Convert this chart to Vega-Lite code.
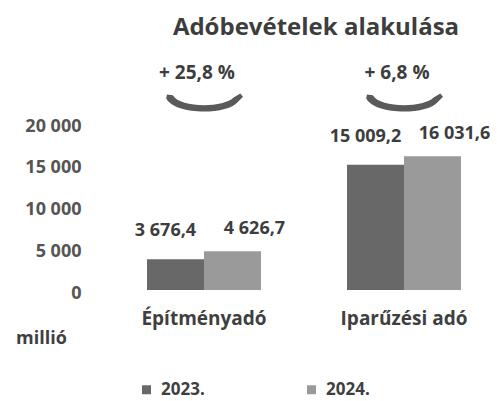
{
  "$schema": "https://vega.github.io/schema/vega-lite/v6.json",
  "width": 400,
  "height": 167,
  "autosize": {"type": "none"},
  "padding": {"left": 104, "top": 123, "right": 0, "bottom": 111},
  "config": {
    "locale": {"number": {"decimal": ",", "thousands": " ", "grouping": [3], "currency": ["", ""]}},
    "view": {"stroke": null},
    "font": "Open Sans"
  },
  "title": {
    "text": "Adóbevételek alakulása",
    "font": "Open Sans", "fontWeight": "bold", "fontSize": 24, "color": "#3d3d3d",
    "anchor": "middle", "dx": 12, "offset": 24, "frame": "group"
  },
  "datasets": {
    "bars": [
      {"category": "Építményadó", "year": "2023.", "value": 3676.4},
      {"category": "Építményadó", "year": "2024.", "value": 4626.7},
      {"category": "Iparűzési adó", "year": "2023.", "value": 15009.2},
      {"category": "Iparűzési adó", "year": "2024.", "value": 16031.6}
    ],
    "changes": [
      {"category": "Építményadó", "pct": "+ 25,8 %"},
      {"category": "Iparűzési adó", "pct": "+ 6,8 %"}
    ]
  },
  "data": {"name": "bars"},
  "encoding": {
    "x": {
      "field": "category", "type": "nominal", "sort": null,
      "scale": {"paddingInner": 0.43, "paddingOuter": 0.215},
      "axis": {
        "title": null, "labelAngle": 0, "domain": false, "ticks": false,
        "labelPadding": 19, "labelFont": "Open Sans", "labelFontWeight": "bold",
        "labelFontSize": 19, "labelColor": "#3f3f3f"
      }
    }
  },
  "layer": [
    {
      "mark": {"type": "bar"},
      "encoding": {
        "xOffset": {"field": "year", "type": "nominal", "scale": {"paddingInner": 0}},
        "y": {
          "field": "value", "type": "quantitative",
          "scale": {"domain": [0, 20000]},
          "axis": {
            "values": [0, 5000, 10000, 15000, 20000], "format": ",.0f",
            "domain": false, "ticks": false, "grid": false,
            "labelPadding": 23, "labelOffset": 3,
            "labelFont": "Open Sans", "labelFontWeight": "bold", "labelFontSize": 18, "labelColor": "#555555",
            "title": "millió", "titleAngle": 0, "titleX": -63, "titleY": 215,
            "titleAlign": "center", "titleBaseline": "middle",
            "titleFont": "Open Sans", "titleFontWeight": "bold", "titleFontSize": 18, "titleColor": "#3f3f3f"
          }
        },
        "color": {
          "field": "year", "type": "nominal",
          "scale": {"range": ["#686868", "#9a9a9a"]},
          "legend": {
            "title": null, "orient": "none", "legendX": 34, "legendY": 258,
            "direction": "horizontal", "columns": 2, "columnPadding": 98,
            "symbolType": "square", "symbolSize": 81, "symbolStrokeWidth": 0,
            "labelFont": "Open Sans", "labelFontWeight": "bold", "labelFontSize": 17,
            "labelColor": "#3f3f3f", "labelOffset": 6
          }
        }
      }
    },
    {
      "transform": [{"filter": "datum.year === '2023.'"}],
      "mark": {"type": "text", "dx": -10, "dy": -28, "baseline": "middle", "font": "Open Sans", "fontWeight": "bold", "fontSize": 18, "color": "#3d3d3d"},
      "encoding": {
        "xOffset": {"field": "year", "type": "nominal", "scale": {"domain": ["2023.", "2024."], "paddingInner": 0}},
        "y": {"field": "value", "type": "quantitative"},
        "text": {"field": "value", "type": "quantitative", "format": ",.1f"}
      }
    },
    {
      "transform": [{"filter": "datum.year === '2024.'"}],
      "mark": {"type": "text", "dx": 22, "dy": -22, "baseline": "middle", "font": "Open Sans", "fontWeight": "bold", "fontSize": 18, "color": "#3d3d3d"},
      "encoding": {
        "xOffset": {"field": "year", "type": "nominal", "scale": {"domain": ["2023.", "2024."], "paddingInner": 0}},
        "y": {"field": "value", "type": "quantitative"},
        "text": {"field": "value", "type": "quantitative", "format": ",.1f"}
      }
    },
    {
      "data": {"name": "changes"},
      "mark": {"type": "text", "dx": -7, "baseline": "middle", "font": "Open Sans", "fontWeight": "bold", "fontSize": 19, "color": "#3d3d3d"},
      "encoding": {
        "y": {"datum": 26000, "type": "quantitative"},
        "text": {"field": "pct", "type": "nominal"}
      }
    },
    {
      "data": {"name": "changes"},
      "mark": {
        "type": "point", "filled": true, "opacity": 1, "color": "#5a5a5a", "strokeWidth": 0,
        "size": 6084, "dx": -9,
        "shape": "M -0.97 -0.12 C -0.75 0.32 0.6 0.32 0.88 -0.04 L 1 -0.16 L 0.93 -0.24 L 0.76 -0.14 C 0.5 0.13 -0.62 0.13 -0.8 -0.2 L -0.95 -0.22 Z"
      },
      "encoding": {
        "y": {"datum": 22400, "type": "quantitative"}
      }
    }
  ]
}
